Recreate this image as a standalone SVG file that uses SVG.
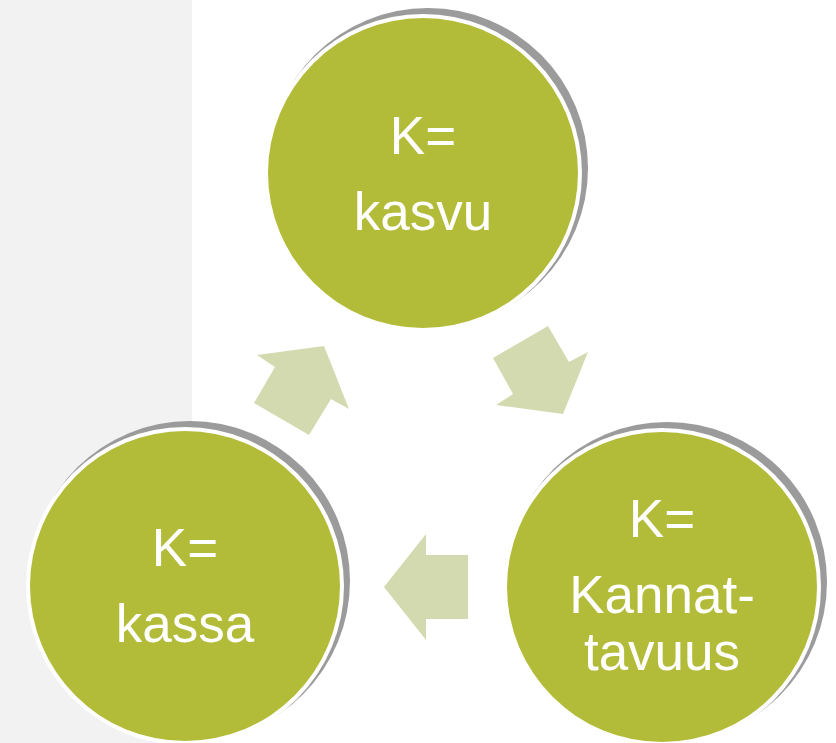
<svg xmlns="http://www.w3.org/2000/svg" width="836" height="743" viewBox="0 0 836 743">
<style>
.shadow{fill:#9b9b9b}
.rim{fill:#ffffff}
.disc{fill:#b3bc39}
.arrow{fill:#d4dab0}
.lbl{font-family:"Liberation Sans",Arial,sans-serif;font-size:53px;fill:#ffffff;text-anchor:middle}
</style>
<rect x="0" y="0" width="836" height="743" fill="#ffffff"/>
<rect x="0" y="0" width="192" height="743" fill="#f2f2f2"/>
<g id="connectors">
<polygon class="arrow" points="257,355 324,346 349,409 331,399 309,435 254,403 275,367"/>
<polygon class="arrow" points="548,326 569,362 588,352 563,414 496,405 513,394 493,358"/>
<polygon class="arrow" points="384,587 426,534 426,555 468,555 468,619 426,619 426,640"/>
</g>
<g id="node-kasvu">
<circle class="shadow" cx="428" cy="168" r="160"/>
<circle class="rim" cx="423" cy="173" r="159"/>
<circle class="disc" cx="423" cy="173" r="155"/>
<text class="lbl" x="423" y="154">K=</text>
<text class="lbl" x="423" y="230">kasvu</text>
</g>
<g id="node-kannattavuus">
<circle class="shadow" cx="667" cy="582" r="160"/>
<circle class="rim" cx="662" cy="587" r="159"/>
<circle class="disc" cx="662" cy="587" r="155"/>
<text class="lbl" x="662" y="537">K=</text>
<text class="lbl" x="662" y="613">Kannat-</text>
<text class="lbl" x="662" y="670">tavuus</text>
</g>
<g id="node-kassa">
<circle class="shadow" cx="190" cy="581" r="160"/>
<circle class="rim" cx="185" cy="586" r="159"/>
<circle class="disc" cx="185" cy="586" r="155"/>
<text class="lbl" x="185" y="566">K=</text>
<text class="lbl" x="185" y="642">kassa</text>
</g>
</svg>
